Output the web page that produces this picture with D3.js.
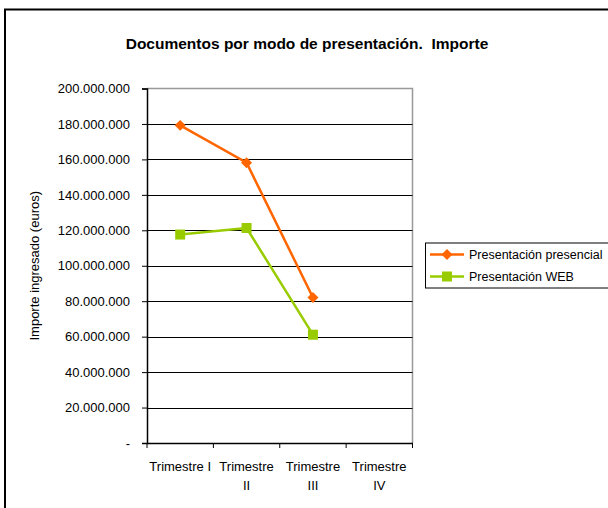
<!DOCTYPE html>
<html><head><meta charset="utf-8">
<script src="https://cdn.jsdelivr.net/npm/d3@7"></script>
<style>body{margin:0;background:#fff;} text{font-family:"Liberation Sans",Arial,sans-serif;}</style>
</head><body>
<svg id="c" width="608" height="508"></svg>
<script>
const categories = ["Trimestre I", "Trimestre II", "Trimestre III", "Trimestre IV"];
const presencial = [179200000, 158100000, 82100000, null];
const web = [117600000, 121300000, 61100000, null];
const seriesNames = ["Presentación presencial", "Presentación WEB"];
const yTicks = [0, 20000000, 40000000, 60000000, 80000000, 100000000, 120000000, 140000000, 160000000, 180000000, 200000000];
const title = "Documentos por modo de presentación.  Importe";
const yTitle = "Importe ingresado (euros)";

const svg = d3.select("#c");
svg.append("rect").attr("x", 0).attr("y", 0).attr("width", 608).attr("height", 508).attr("fill", "#fff");
// outer border
svg.append("path").attr("d", "M5,508 L5,9.5 L608,9.5").attr("fill", "none").attr("stroke", "#000").attr("stroke-width", 2);

const L = 147, R = 412.5, T = 88.5, B = 443;
const x = d3.scaleBand().domain(categories).range([L, R]);
const y = d3.scaleLinear().domain([0, 200000000]).range([B, T]);

svg.append("text").attr("x", 307).attr("y", 49).attr("text-anchor", "middle")
  .attr("font-weight", "bold").style("font-size", "15.5px").style("white-space", "pre").text(title);

// plot area border (gray)
svg.append("path").attr("d", `M${L},${T} L${R},${T} L${R},${B}`).attr("fill", "none").attr("stroke", "#999").attr("stroke-width", 1.5);

// gridlines
svg.append("g").selectAll("line").data(yTicks.filter(v => v > 0 && v < 200000000)).join("line")
  .attr("x1", L).attr("x2", R).attr("y1", d => Math.round(y(d)) + 0.5).attr("y2", d => Math.round(y(d)) + 0.5)
  .attr("stroke", "#000").attr("stroke-width", 1);

const fmt = v => v === 0 ? "-" : d3.format(",")(v).replace(/,/g, ".");
const yAxis = svg.append("g").attr("transform", `translate(${L},0)`)
  .call(d3.axisLeft(y).tickValues(yTicks).tickSize(5).tickFormat(fmt));
yAxis.select(".domain").attr("stroke", "#000").attr("stroke-width", 1.5);
yAxis.selectAll(".tick line").attr("stroke", "#000");
yAxis.selectAll("text").attr("font-size", 13).attr("fill", "#000").attr("x", -17).style("font-family", "'Liberation Sans',Arial,sans-serif");

const xAxis = svg.append("g").attr("transform", `translate(0,${B})`)
  .call(d3.axisBottom(x).tickValues([]).tickSizeOuter(0));
xAxis.select(".domain").attr("stroke", "#000").attr("stroke-width", 1.5);
// ticks at band boundaries
svg.append("g").selectAll("line").data(categories).join("line")
  .attr("x1", d => x(d) + x.bandwidth()).attr("x2", d => x(d) + x.bandwidth())
  .attr("y1", B).attr("y2", B + 5).attr("stroke", "#000");
svg.append("line").attr("x1", L).attr("x2", L).attr("y1", B).attr("y2", B + 5).attr("stroke", "#000");

// x labels wrapped
const xl = svg.append("g").selectAll("text").data(categories).join("text")
  .attr("text-anchor", "middle").attr("font-size", 13).attr("fill", "#000");
xl.each(function(d) {
  const t = d3.select(this);
  const cx = x(d) + x.bandwidth() / 2;
  const parts = d === "Trimestre I" ? [d] : [d.split(" ")[0], d.split(" ")[1]];
  parts.forEach((p, i) => t.append("tspan").attr("x", cx).attr("y", 471 + i * 19).text(p));
});

svg.append("text").attr("transform", `translate(39,${(T + B) / 2}) rotate(-90)`)
  .attr("text-anchor", "middle").attr("font-size", 13).attr("fill", "#000").text(yTitle);

const cx = d => x(d) + x.bandwidth() / 2;
const orange = "#FF6600", green = "#99CC00";
const line = d3.line().defined(d => d.v != null).x(d => cx(d.c)).y(d => y(d.v));
const d1 = categories.map((c, i) => ({c, v: presencial[i]}));
const d2 = categories.map((c, i) => ({c, v: web[i]}));

svg.append("path").datum(d1).attr("d", line).attr("fill", "none").attr("stroke", orange).attr("stroke-width", 2.5);
svg.append("path").datum(d2).attr("d", line).attr("fill", "none").attr("stroke", green).attr("stroke-width", 2.5);

svg.append("g").selectAll("path").data(d1.filter(d => d.v != null)).join("path")
  .attr("d", d3.symbol().type(d3.symbolSquare).size(60))
  .attr("transform", d => `translate(${cx(d.c)},${y(d.v)}) rotate(45)`).attr("fill", orange);
svg.append("g").selectAll("rect").data(d2.filter(d => d.v != null)).join("rect")
  .attr("x", d => cx(d.c) - 5).attr("y", d => y(d.v) - 5).attr("width", 10).attr("height", 10).attr("fill", green);

// legend
const lg = svg.append("g");
lg.append("rect").attr("x", 425.5).attr("y", 243).attr("width", 190).attr("height", 45).attr("fill", "#fff").attr("stroke", "#000").attr("stroke-width", 1);
const items = [{n: seriesNames[0], c: orange, t: "d"}, {n: seriesNames[1], c: green, t: "s"}];
items.forEach((it, i) => {
  const yy = 254.5 + i * 22;
  lg.append("line").attr("x1", 430).attr("x2", 464).attr("y1", yy).attr("y2", yy).attr("stroke", it.c).attr("stroke-width", 2.5);
  if (it.t === "d") lg.append("path").attr("d", d3.symbol().type(d3.symbolSquare).size(60)).attr("transform", `translate(447,${yy}) rotate(45)`).attr("fill", it.c);
  else lg.append("rect").attr("x", 442).attr("y", yy - 5).attr("width", 10).attr("height", 10).attr("fill", it.c);
  lg.append("text").attr("x", 469).attr("y", yy + 4.5).attr("font-size", 12.5).attr("fill", "#000").text(it.n);
});
</script>
</body></html>
